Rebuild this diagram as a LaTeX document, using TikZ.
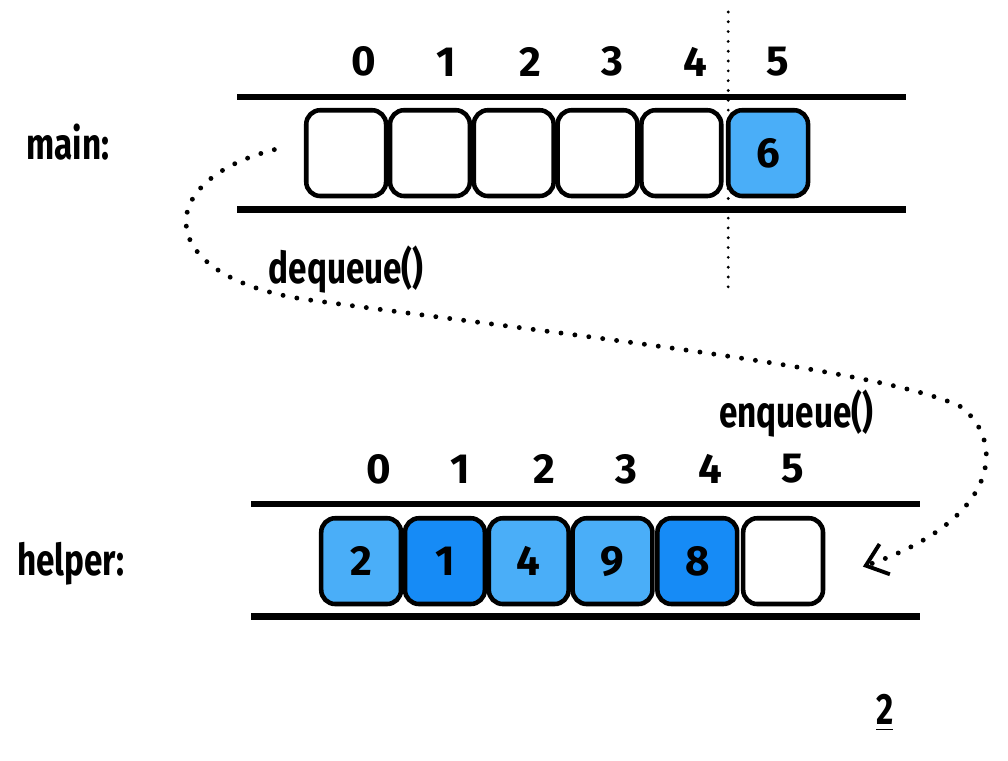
\documentclass[tikz,border=0pt]{standalone}
\usepackage{fontspec}
\setmainfont{Fira Sans}
\newfontfamily\condfont[FakeStretch=0.76]{Fira Sans}
\usetikzlibrary{arrows.meta}
\definecolor{lightq}{HTML}{4AAEF8}
\definecolor{darkq}{HTML}{168BF6}
\begin{document}
\begin{tikzpicture}[
    cell/.style={draw, line width=1.3pt, rounded corners=4pt, minimum width=8mm, minimum height=8.6mm, inner sep=0pt, font=\fontsize{12}{14}\selectfont\bfseries},
    idx/.style={font=\fontsize{12}{14}\selectfont\bfseries},
    lbl/.style={font=\condfont\fontsize{12.5}{14}\selectfont\bfseries},
    rail/.style={line width=1.8pt},
    flow/.style={line width=1.4pt, dash pattern=on 0pt off 4pt, line cap=round} ]
    % --- main queue ---
    \node[lbl] (mainlbl) at (0.68, 6.20) {main:};
    \node[idx] (mi0) at (3.65, 7.00) {0};
    \node[idx] (mi1) at (4.47, 7.00) {1};
    \node[idx] (mi2) at (5.32, 7.00) {2};
    \node[idx] (mi3) at (6.14, 7.00) {3};
    \node[idx] (mi4) at (6.97, 7.00) {4};
    \node[idx] (mi5) at (7.80, 7.00) {5};

    \node[cell] (m0) at (3.47, 6.085) {};
    \node[cell] (m1) at (4.31, 6.085) {};
    \node[cell] (m2) at (5.15, 6.085) {};
    \node[cell] (m3) at (5.99, 6.085) {};
    \node[cell] (m4) at (6.83, 6.085) {};
    \node[cell, fill=lightq] (m5) at (7.70, 6.085) {6};

    \coordinate (mtl) at (2.38, 6.65);
    \coordinate (mtr) at (9.08, 6.65);
    \coordinate (mbl) at (2.38, 5.52);
    \coordinate (mbr) at (9.08, 5.52);
    \draw[rail] (mtl) -- (mtr);
    \draw[rail] (mbl) -- (mbr);

    % split line
    \coordinate (cuttop) at (7.30, 7.50);
    \coordinate (cutbot) at (7.30, 4.72);
    \draw[line width=0.9pt, dash pattern=on 0pt off 2.8pt, line cap=round] (cuttop) -- (cutbot);

    % --- helper queue ---
    \node[lbl] (helperlbl) at (0.71, 1.97) {helper:};
    \node[idx] (hi0) at (3.80, 2.92) {0};
    \node[idx] (hi1) at (4.61, 2.92) {1};
    \node[idx] (hi2) at (5.46, 2.92) {2};
    \node[idx] (hi3) at (6.28, 2.92) {3};
    \node[idx] (hi4) at (7.12, 2.92) {4};
    \node[idx] (hi5) at (7.95, 2.92) {5};

    \node[cell, fill=lightq] (h0) at (3.62, 1.995) {2};
    \node[cell, fill=darkq] (h1) at (4.46, 1.995) {1};
    \node[cell, fill=lightq] (h2) at (5.30, 1.995) {4};
    \node[cell, fill=lightq] (h3) at (6.14, 1.995) {9};
    \node[cell, fill=darkq] (h4) at (6.99, 1.995) {8};
    \node[cell] (h5) at (7.85, 1.995) {};

    \coordinate (htl) at (2.52, 2.57);
    \coordinate (htr) at (9.22, 2.57);
    \coordinate (hbl) at (2.52, 1.44);
    \coordinate (hbr) at (9.22, 1.44);
    \draw[rail] (htl) -- (htr);
    \draw[rail] (hbl) -- (hbr);

    % --- move from main to helper ---
    \coordinate (deqstart) at (2.75, 6.12);
    \coordinate (turn1) at (3.05, 4.62);
    \coordinate (turn2) at (9.62, 3.55);
    \coordinate (enqend) at (8.65, 1.94);
    \draw[flow, -{Straight Barb[length=2mm, width=3.2mm, line width=1.1pt]}] (deqstart)
        .. controls (1.50, 5.80) and (1.55, 4.85) .. (turn1)
        .. controls (6.00, 4.22) and (8.80, 3.92) .. (turn2)
        .. controls (10.08, 3.22) and (10.05, 2.42) .. (enqend);

    \node[lbl] (deq) at (3.47, 4.92) {dequeue()};
    \node[lbl] (enq) at (7.98, 3.47) {enqueue()};

    \node[lbl] (stepnum) at (8.87, 0.47) {\underline{2}};

    \useasboundingbox (0, 0) rectangle (10.08, 7.62);
\end{tikzpicture}
\end{document}
